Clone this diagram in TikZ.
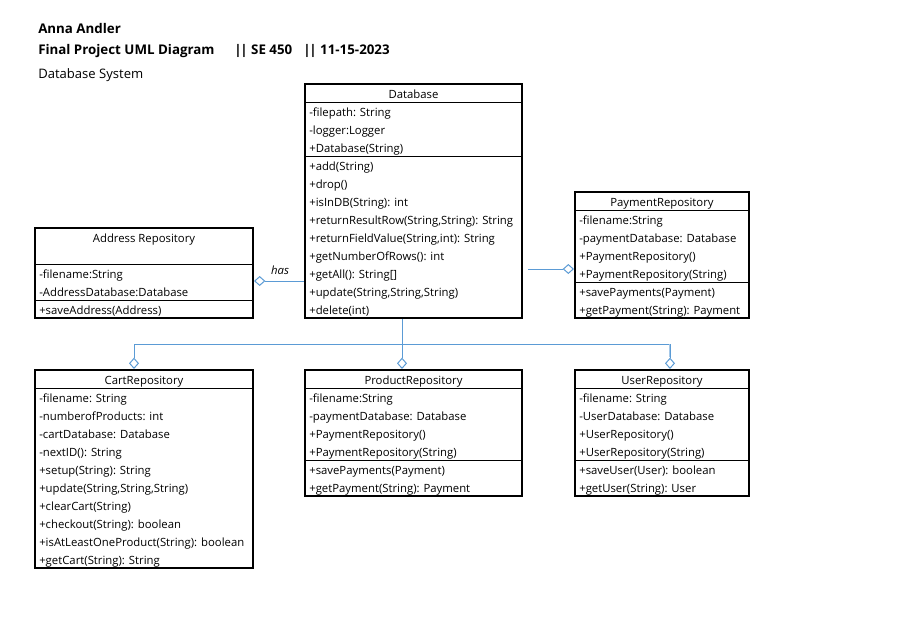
\documentclass[tikz,border=0pt]{standalone}
\usepackage{fontspec}
\setmainfont{Open Sans}
\usetikzlibrary{fit,arrows.meta}
\definecolor{connblue}{RGB}{91,155,213}
\tikzset{
  cls/.style={draw, line width=1.5pt, inner sep=0pt},
  sepline/.style={line width=0.75pt},
  txt/.style={inner sep=0pt, anchor=base west},
  ttl/.style={inner sep=0pt, anchor=base},
  conn/.style={draw=connblue, line width=0.75pt},
  agg/.style={-{Diamond[fill=white, length=8.5pt, width=7.5pt]}},
  headtxt/.style={inner sep=0pt, anchor=base west, font=\fontsize{10}{12}\selectfont\bfseries},
}
\newcommand\umlrows[4]{%
  \foreach \t [count=\i] in {#4} {\node[txt] (#1\i) at (#2, #3+14+18*\i-18) {\t};}}
\newcommand\dbar{|\kern-0.9pt|}
\begin{document}
\begin{tikzpicture}[x=0.75pt, y=-0.75pt, font=\fontsize{8.5}{10}\selectfont]
\useasboundingbox (0,0) rectangle (904,628);
% heading
\node[headtxt] (h1) at (38,33) {Anna Andler};
\node[headtxt] (h2a) at (38,55) {Final Project UML Diagram};
\node[headtxt] (h2b) at (234,55) {\dbar{} SE 450};
\node[headtxt] (h2c) at (303,55) {\dbar{} 11-15-2023};
\node[txt, font=\fontsize{9.8}{12}\selectfont] (h3) at (38,78) {Database System};

% Database
\node[cls, fit={(305,84) (522,318)}] (db) {};
\node[ttl] (dbt) at (413.5,98) {Database};
\draw[sepline] (305,102) -- (522,102);
\umlrows{dba}{309}{102}{{-filepath: String},{-logger:Logger},{+Database(String)}}
\draw[sepline] (305,156) -- (522,156);
\umlrows{dbm}{309}{156}{{+add(String)},{+drop()},{+isInDB(String): int},{+returnResultRow(String,String): String},{+returnFieldValue(String,int): String},{+getNumberOfRows(): int},{+getAll(): String[]},{+update(String,String,String)},{+delete(int)}}

% Address Repository
\node[cls, fit={(35,228) (253,318)}] (addr) {};
\node[ttl] (addrt) at (144,242) {Address Repository};
\draw[sepline] (35,264) -- (253,264);
\umlrows{adra}{39}{264}{{-filename:String},{-AddressDatabase:Database}}
\draw[sepline] (35,300) -- (253,300);
\umlrows{adrm}{39}{300}{{+saveAddress(Address)}}

% PaymentRepository
\node[cls, fit={(575,192) (749,318)}] (pay) {};
\node[ttl] (payt) at (662,206) {PaymentRepository};
\draw[sepline] (575,210) -- (749,210);
\umlrows{paya}{579}{210}{{-filename:String},{-paymentDatabase: Database},{+PaymentRepository()},{+PaymentRepository(String)}}
\draw[sepline] (575,282) -- (749,282);
\umlrows{paym}{579}{282}{{+savePayments(Payment)},{+getPayment(String): Payment}}

% CartRepository
\node[cls, fit={(35,370) (253,568)}] (cart) {};
\node[ttl] (cartt) at (144,384) {CartRepository};
\draw[sepline] (35,388) -- (253,388);
\umlrows{carta}{39}{388}{{-filename: String},{-numberofProducts: int},{-cartDatabase: Database},{-nextID(): String},{+setup(String): String},{+update(String,String,String)},{+clearCart(String)},{+checkout(String): boolean},{+isAtLeastOneProduct(String): boolean},{+getCart(String): String}}

% ProductRepository
\node[cls, fit={(305,370) (522,496)}] (prod) {};
\node[ttl] (prodt) at (413.5,384) {ProductRepository};
\draw[sepline] (305,388) -- (522,388);
\umlrows{proda}{309}{388}{{-filename:String},{-paymentDatabase: Database},{+PaymentRepository()},{+PaymentRepository(String)}}
\draw[sepline] (305,460) -- (522,460);
\umlrows{prodm}{309}{460}{{+savePayments(Payment)},{+getPayment(String): Payment}}

% UserRepository
\node[cls, fit={(575,370) (749,496)}] (user) {};
\node[ttl] (usert) at (662,384) {UserRepository};
\draw[sepline] (575,388) -- (749,388);
\umlrows{usera}{579}{388}{{-filename: String},{-UserDatabase: Database},{+UserRepository()},{+UserRepository(String)}}
\draw[sepline] (575,460) -- (749,460);
\umlrows{userm}{579}{460}{{+saveUser(User): boolean},{+getUser(String): User}}

% connectors
\draw[conn, agg] (db.west |- 0,281) -- (addr.east |- 0,281);
\node[inner sep=0pt, anchor=base, font=\fontsize{8.5}{10}\selectfont\itshape] (has) at (280,274) {has};
\draw[conn, agg, shorten <=3.75pt] (db.east |- 0,269) -- (pay.west |- 0,269);
\draw[conn, agg] (db.south -| 402,0) -- (prod.north -| 402,0);
\coordinate (busl) at (134,344);
\coordinate (busr) at (670,344);
\draw[conn] (busl) -- (busr);
\draw[conn, agg] (busl) -- (cart.north -| busl);
\draw[draw=connblue!55, line width=1.6pt, shorten >=9pt] (busr) -- (user.north -| busr);
\draw[conn, agg] (busr) -- (user.north -| busr);
\end{tikzpicture}
\end{document}
